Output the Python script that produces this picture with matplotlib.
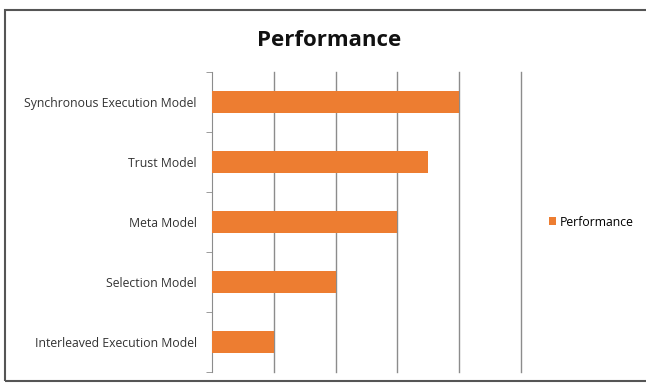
import matplotlib.pyplot as plt
from matplotlib.patches import Rectangle

# data, bottom to top
models = ['Interleaved Execution Model', 'Selection Model', 'Meta Model',
          'Trust Model', 'Synchronous Execution Model']
performance = [1, 2, 3, 3.5, 4]

plt.rcParams['font.family'] = ['Open Sans', 'DejaVu Sans']

fig = plt.figure(figsize=(6.46, 3.83), dpi=100)
W, H = 646, 383
# plot area in pixels: left 212, right 521, top 72, bottom 372
ax = fig.add_axes([212 / W, 1 - 372 / H, (521 - 212) / W, (372 - 72) / H])

# outer chart border
fig.patches.append(Rectangle((5 / W, 1 - 381 / H), 700 / W, (381 - 10) / H,
                             transform=fig.transFigure, fill=False,
                             edgecolor='#555555', linewidth=1.5))

ax.barh(range(len(models)), performance, height=0.38, color='#ED7D31',
        label='Performance', zorder=3)

ax.set_xlim(0, 5)
ax.set_ylim(-0.5, len(models) - 0.5)
ax.set_xticks([1, 2, 3, 4, 5])
ax.set_xticklabels([])
ax.tick_params(axis='x', length=0)
for x in [1, 2, 3, 4, 5]:
    ax.axvline(x, color='#8c8c8c', linewidth=1, clip_on=False, zorder=1)

# category labels, ticks on the boundaries between categories
ax.set_yticks(range(len(models)))
ax.set_yticklabels(models, fontsize=8.8, color='#333333')
ax.tick_params(axis='y', length=0, pad=11)
ax.set_yticks([i - 0.5 for i in range(len(models) + 1)], minor=True)
ax.tick_params(axis='y', which='minor', length=4, color='#8c8c8c', direction='out')

for s in ['top', 'right', 'bottom']:
    ax.spines[s].set_visible(False)
ax.spines['left'].set_color('#8c8c8c')

fig.text(329 / W, 1 - 41 / H, 'Performance', ha='center', va='center',
         fontsize=16, fontweight='bold', color='#111111')

fig.legend(loc='center left', bbox_to_anchor=(538 / W, 1 - 222 / H),
           frameon=False, fontsize=8.8, handlelength=0.6, handleheight=0.6,
           handletextpad=0.3)

fig.savefig('out.png', dpi=100)
